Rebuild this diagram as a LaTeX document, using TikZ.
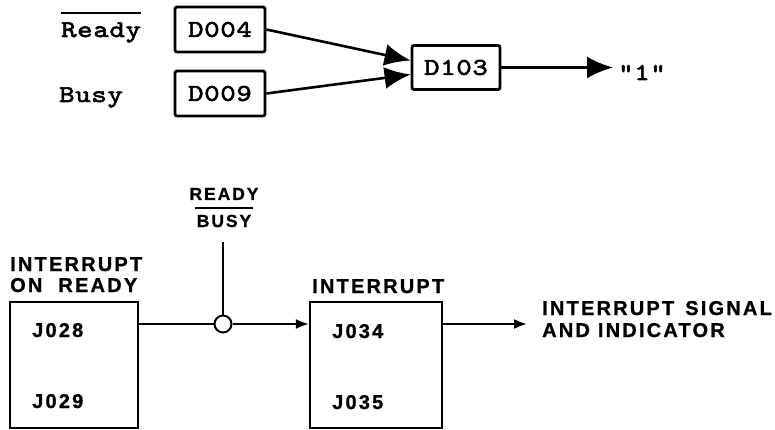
\documentclass[tikz,border=0pt]{standalone}
\usepackage{fontspec}
\usetikzlibrary{arrows.meta}
\newfontfamily\twfont{lmmono10-regular}[Extension=.otf,LetterSpace=3,FakeBold=2.5,FakeStretch=1.22]
\newfontfamily\letfont{Liberation Sans}[LetterSpace=11,FakeBold=1]
\begin{document}
\begin{tikzpicture}[x=1pt,y=-1pt,
  tw/.style={font=\twfont\fontsize{24}{28}\selectfont, inner sep=0pt},
  lt/.style={font=\letfont\bfseries\fontsize{20}{22}\selectfont, inner sep=0pt},
  lts/.style={font=\letfont\bfseries\fontsize{17.5}{20}\selectfont, inner sep=0pt},
  tbox/.style={draw, line width=2.8pt, rounded corners=2pt, minimum height=45pt, inner sep=0pt, tw},
  bbox/.style={draw, line width=2.2pt, minimum height=126pt, inner sep=0pt},
  bigarr/.style={line width=2.6pt, -{Latex[length=26pt,width=22pt]}},
  smarr/.style={line width=2.2pt, -{Latex[length=13pt,width=10pt]}}]
\useasboundingbox (0,0) rectangle (775,430);
% ---------- top ----------
\node[tbox, minimum width=90pt] (d004) at (220,29.5) {D004};
\node[tbox, minimum width=90pt] (d009) at (220,93.5) {D009};
\node[tbox, minimum width=88pt, minimum height=44pt] (d103) at (456,67.5) {D103};
\node[tw, anchor=base west] (ready) at (61,37) {Ready};
\draw[line width=1.5pt] ([yshift=9pt]ready.north west) -- ([yshift=9pt]ready.north east);
\node[tw, anchor=base west] (busy) at (59,102) {Busy};
\node[tw, anchor=base west] (one) at (618,80) {"1"};
\coordinate (onetip) at (613,67.5);
\draw[bigarr] (d004.east) -- ([yshift=7pt]d103.west);
\draw[bigarr] (d009.east) -- ([yshift=-7pt]d103.west);
\draw[bigarr] (d103.east) -- (onetip);
% ---------- bottom ----------
\node[lts, anchor=base] (rdy) at (224,200) {READY};
\node[lts, anchor=base] (bsy) at (224,227) {BUSY};
\draw[line width=1.6pt] (195,208) -- (253,208);
\coordinate (rtop) at (223,242);
\node[circle, draw, line width=2pt, minimum size=17pt, inner sep=0pt] (c) at (223,324) {};
\draw[line width=2.2pt] (rtop) -- (c.north);

\node[bbox, minimum width=128pt] (b1) at (74,365) {};
\node[bbox, minimum width=132pt] (b2) at (376,365) {};
\node[lt, anchor=base west] (int1) at (10,271) {INTERRUPT};
\node[lt, anchor=base west] (onr) at (10,292) {ON\hspace{16pt}READY};
\node[lt, anchor=base west] (int2) at (312,293) {INTERRUPT};
\node[lt, anchor=base west] (j028) at (32,337) {J028};
\node[lt, anchor=base west] (j029) at (32,408) {J029};
\node[lt, anchor=base west] (j034) at (332,338) {J034};
\node[lt, anchor=base west] (j035) at (332,409) {J035};
\node[lt, anchor=base west] (sig1) at (542,315) {INTERRUPT\hspace{11pt}SIGNAL};
\node[lt, anchor=base west] (sig2) at (542,337) {AND\hspace{8pt}INDICATOR};
\coordinate (outtip) at (527,324);

\draw[line width=2.2pt] (b1.east |- c) -- (c.west);
\draw[smarr] (c.east) -- (c -| b2.west);
\draw[smarr] (b2.east |- c) -- (outtip);
\end{tikzpicture}
\end{document}
